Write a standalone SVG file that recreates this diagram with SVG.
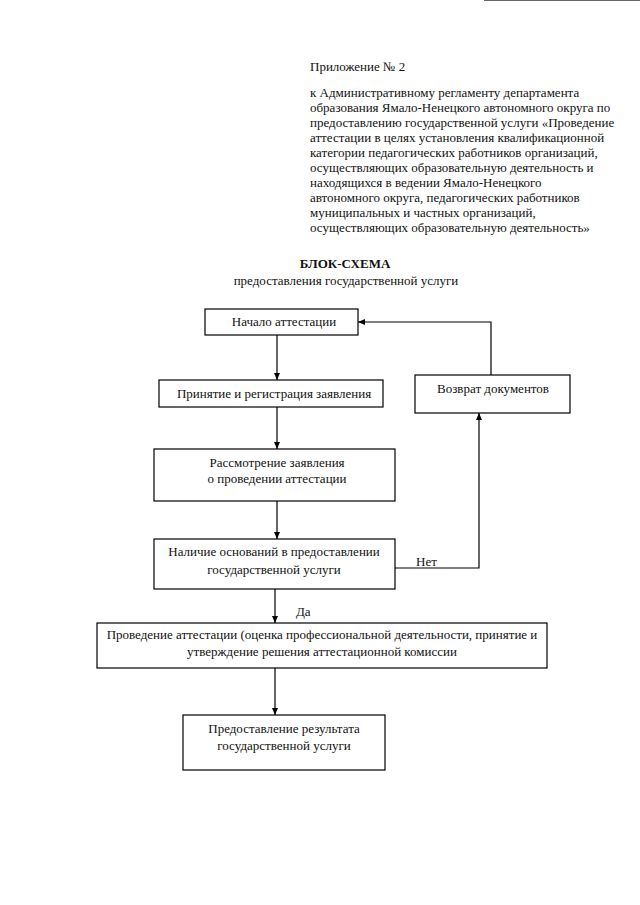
<svg xmlns="http://www.w3.org/2000/svg" width="640" height="905" viewBox="0 0 640 905">
<defs>
<marker id="ah" markerWidth="8" markerHeight="8" refX="7" refY="4" orient="auto" markerUnits="userSpaceOnUse">
<path d="M0,1 L7,4 L0,7 Z" fill="#000"/>
</marker>
<style>
text{font-family:"Liberation Serif","Times New Roman",serif;font-size:13px;fill:#111}
.b{font-weight:bold}
.c{text-anchor:middle}
rect{fill:#fff;stroke:#000;stroke-width:1.2}
.e{fill:none;stroke:#000;stroke-width:1.2}
</style>
</defs>
<rect x="0" y="0" width="640" height="905" style="stroke:none;fill:#fff"/>
<line x1="484" y1="0.5" x2="640" y2="0.5" stroke="#666" stroke-width="1"/>
<g id="header">
<text x="310" y="71">Приложение № 2</text>
<text x="310" y="97">к Административному регламенту департамента</text>
<text x="310" y="112">образования Ямало-Ненецкого автономного округа по</text>
<text x="310" y="127">предоставлению государственной услуги «Проведение</text>
<text x="310" y="142">аттестации в целях установления квалификационной</text>
<text x="310" y="157">категории педагогических работников организаций,</text>
<text x="310" y="172">осуществляющих образовательную деятельность и</text>
<text x="310" y="187">находящихся в ведении Ямало-Ненецкого</text>
<text x="310" y="202">автономного округа, педагогических работников</text>
<text x="310" y="217">муниципальных и частных организаций,</text>
<text x="310" y="232">осуществляющих образовательную деятельность»</text>
</g>
<g id="title">
<text class="b c" x="345" y="268">БЛОК-СХЕМА</text>
<text class="c" x="346" y="285">предоставления государственной услуги</text>
</g>
<g id="connectors">
<path class="e" d="M277,335 V380" marker-end="url(#ah)"/>
<path class="e" d="M277,407 V449" marker-end="url(#ah)"/>
<path class="e" d="M277,501 V539" marker-end="url(#ah)"/>
<path class="e" d="M275,589 V623" marker-end="url(#ah)"/>
<path class="e" d="M275,668 V715" marker-end="url(#ah)"/>
<path class="e" d="M395,568 H479 V413" marker-end="url(#ah)"/>
<path class="e" d="M491,375 V322 H358" marker-end="url(#ah)"/>
<text x="416" y="566">Нет</text>
<text x="296" y="616">Да</text>
</g>
<g id="n1">
<rect x="205" y="309" width="153" height="26"/>
<text class="c" x="284" y="326">Начало аттестации</text>
</g>
<g id="n2">
<rect x="159" y="380" width="224" height="27"/>
<text class="c" x="274" y="398">Принятие и регистрация заявления</text>
</g>
<g id="n3">
<rect x="415" y="375" width="155" height="38"/>
<text class="c" x="493" y="393">Возврат документов</text>
</g>
<g id="n4">
<rect x="154" y="449" width="241" height="52"/>
<text class="c" x="277" y="467">Рассмотрение заявления</text>
<text class="c" x="277" y="483">о проведении аттестации</text>
</g>
<g id="n5">
<rect x="154" y="539" width="241" height="50"/>
<text class="c" x="274" y="556">Наличие оснований в предоставлении</text>
<text class="c" x="274" y="574">государственной услуги</text>
</g>
<g id="n6">
<rect x="97" y="623" width="450" height="45"/>
<text class="c" x="322" y="639">Проведение аттестации (оценка профессиональной деятельности, принятие и</text>
<text class="c" x="322" y="656">утверждение решения аттестационной комиссии</text>
</g>
<g id="n7">
<rect x="183" y="715" width="202" height="55"/>
<text class="c" x="284" y="733">Предоставление результата</text>
<text class="c" x="284" y="750">государственной услуги</text>
</g>
</svg>
